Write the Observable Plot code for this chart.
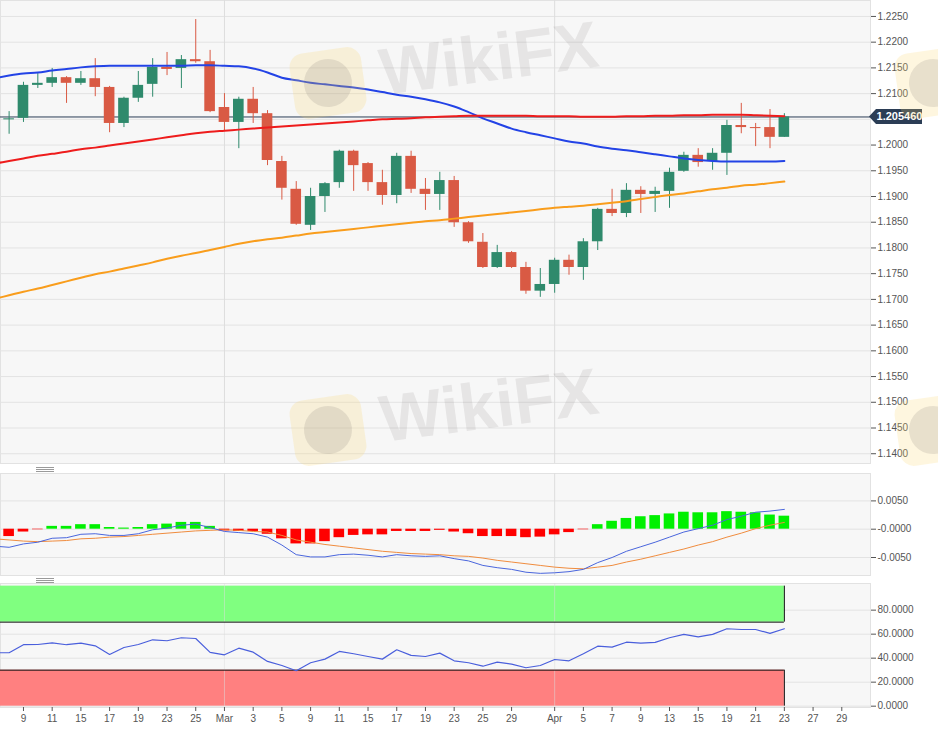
<!DOCTYPE html>
<html><head><meta charset="utf-8">
<script src="https://cdn.jsdelivr.net/npm/d3@7"></script>
<script src="https://cdn.jsdelivr.net/npm/@observablehq/plot@0.6"></script>
<style>
html,body{margin:0;padding:0;background:#fff;}
#wrap{position:relative;width:938px;height:734px;overflow:hidden;font-family:"Liberation Sans",Arial,sans-serif;}
.panel{position:absolute;left:0;}
.handle{position:absolute;left:36px;width:18px;height:5px;background:repeating-linear-gradient(to bottom,#9a9a9a 0,#9a9a9a 1px,transparent 1px,transparent 2px);}
.logo{position:absolute;pointer-events:none;width:72px;height:66px;border-radius:14px;background:rgba(250,214,110,0.22);transform:rotate(-8deg);}
.logo::after{content:"";position:absolute;left:12px;top:9px;width:48px;height:48px;border-radius:50%;background:rgba(110,100,100,0.15);}
#wmsvg{position:absolute;left:0;top:0;pointer-events:none;}
</style></head>
<body><div id="wrap"></div>
<script>
// ---- data (EUR/USD daily) ----
const dates = ["2021-02-05","2021-02-08","2021-02-09","2021-02-10","2021-02-11","2021-02-12",
"2021-02-15","2021-02-16","2021-02-17","2021-02-18","2021-02-19",
"2021-02-22","2021-02-23","2021-02-24","2021-02-25","2021-02-26",
"2021-03-01","2021-03-02","2021-03-03","2021-03-04","2021-03-05",
"2021-03-08","2021-03-09","2021-03-10","2021-03-11","2021-03-12",
"2021-03-15","2021-03-16","2021-03-17","2021-03-18","2021-03-19",
"2021-03-22","2021-03-23","2021-03-24","2021-03-25","2021-03-26",
"2021-03-29","2021-03-30","2021-03-31","2021-04-01","2021-04-02",
"2021-04-05","2021-04-06","2021-04-07","2021-04-08","2021-04-09",
"2021-04-12","2021-04-13","2021-04-14","2021-04-15","2021-04-16",
"2021-04-19","2021-04-20","2021-04-21","2021-04-22","2021-04-23"];
const futureDates = ["2021-04-26","2021-04-27","2021-04-28","2021-04-29","2021-04-30"];

const open = [1.1970,1.2049,1.2052,1.2116,1.2120,1.2131,1.2120,1.2129,1.2112,1.2042,
1.2091,1.2118,1.2151,1.2149,1.2166,1.2162,1.2073,1.2044,1.2089,1.2061,
1.1968,1.1914,1.1844,1.1900,1.1927,1.1988,1.1964,1.1927,1.1902,1.1978,
1.1914,1.1904,1.1931,1.1849,1.1811,1.1762,1.1791,1.1762,1.1716,1.1729,
1.1776,1.1762,1.1812,1.1875,1.1867,1.1912,1.1904,1.1910,1.1949,1.1980,
1.1968,1.1984,1.2038,1.2034,1.2034,1.2015];
const high = [1.2054,1.2065,1.2122,1.2139,1.2149,1.2133,1.2143,1.2168,1.2114,1.2093,
1.2143,1.2168,1.2180,1.2174,1.2244,1.2184,1.2100,1.2093,1.2112,1.2067,
1.1978,1.1929,1.1916,1.1927,1.1990,1.1990,1.1966,1.1951,1.1984,1.1988,
1.1935,1.1947,1.1939,1.1851,1.1828,1.1805,1.1793,1.1772,1.1760,1.1780,
1.1786,1.1818,1.1877,1.1914,1.1925,1.1919,1.1918,1.1955,1.1986,1.1993,
1.1993,1.2048,1.2081,1.2042,1.2069,1.2061];
const low = [1.1964,1.2021,1.2044,1.2110,1.2112,1.2081,1.2116,1.2094,1.2024,1.2034,
1.2083,1.2093,1.2135,1.2110,1.2159,1.2063,1.2028,1.1993,1.2042,1.1960,
1.1893,1.1844,1.1834,1.1869,1.1916,1.1910,1.1910,1.1883,1.1886,1.1906,
1.1873,1.1873,1.1840,1.1809,1.1760,1.1760,1.1760,1.1710,1.1704,1.1712,
1.1747,1.1737,1.1795,1.1861,1.1859,1.1867,1.1869,1.1877,1.1947,1.1957,
1.1951,1.1941,1.2022,1.1997,1.1993,1.2015];
const close = [1.2052,1.2051,1.2116,1.2120,1.2131,1.2120,1.2129,1.2112,1.2042,1.2091,
1.2116,1.2151,1.2147,1.2166,1.2162,1.2065,1.2044,1.2089,1.2061,1.1970,
1.1916,1.1846,1.1900,1.1925,1.1988,1.1960,1.1927,1.1902,1.1978,1.1914,
1.1904,1.1931,1.1849,1.1812,1.1762,1.1791,1.1762,1.1716,1.1729,1.1776,
1.1762,1.1812,1.1875,1.1867,1.1912,1.1904,1.1910,1.1947,1.1980,1.1966,
1.1984,1.2038,1.2034,1.2032,1.2015,1.20546];

const ma50 = [1.2130,1.2135,1.2139,1.2141,1.2145,1.2148,1.2151,1.2153,1.2154,1.2154,
1.2154,1.2154,1.2154,1.2154,1.2155,1.2155,1.2154,1.2153,1.2149,1.2141,
1.2131,1.2126,1.2121,1.2118,1.2115,1.2112,1.2108,1.2103,1.2098,1.2094,
1.2089,1.2083,1.2075,1.2064,1.2052,1.2042,1.2032,1.2025,1.2019,1.2013,
1.2007,1.2003,1.1997,1.1993,1.1990,1.1986,1.1982,1.1978,1.1974,1.1971,
1.1969,1.1968,1.1968,1.1968,1.1968,1.1969];
const ma100 = [1.1964,1.1969,1.1974,1.1979,1.1983,1.1987,1.1992,1.1995,1.1999,1.2003,
1.2007,1.2011,1.2015,1.2019,1.2023,1.2026,1.2028,1.2030,1.2032,1.2034,
1.2036,1.2038,1.2040,1.2042,1.2044,1.2046,1.2048,1.2050,1.2051,1.2052,
1.2054,1.2055,1.2056,1.2057,1.2057,1.2057,1.2057,1.2057,1.2056,1.2056,
1.2056,1.2055,1.2055,1.2055,1.2056,1.2056,1.2057,1.2057,1.2058,1.2058,
1.2059,1.2059,1.2059,1.2058,1.2057,1.2056];
const ma200 = [1.1701,1.1708,1.1715,1.1721,1.1728,1.1735,1.1742,1.1749,1.1754,1.1760,
1.1766,1.1772,1.1779,1.1785,1.1790,1.1796,1.1802,1.1808,1.1813,1.1817,
1.1820,1.1824,1.1828,1.1831,1.1834,1.1837,1.1840,1.1843,1.1846,1.1849,
1.1852,1.1854,1.1857,1.1860,1.1863,1.1866,1.1869,1.1872,1.1875,1.1878,
1.1880,1.1882,1.1885,1.1888,1.1891,1.1895,1.1899,1.1903,1.1906,1.1910,
1.1914,1.1917,1.1921,1.1923,1.1926,1.1929];

const macd = [-0.0030,-0.0032,-0.0026,-0.0023,-0.0016,-0.0015,-0.0009,-0.0008,-0.0011,-0.0011,
-0.0008,-0.0001,0.0002,0.0007,0.0009,0.0003,-0.0004,-0.0006,-0.0008,-0.0014,
-0.0028,-0.0045,-0.0049,-0.0049,-0.0045,-0.0044,-0.0046,-0.0049,-0.0045,-0.0047,
-0.0048,-0.0047,-0.0052,-0.0056,-0.0064,-0.0068,-0.0071,-0.0076,-0.0078,-0.0077,
-0.0075,-0.0071,-0.0059,-0.0050,-0.0039,-0.0031,-0.0023,-0.0014,-0.0005,0.0001,
0.0007,0.0017,0.0023,0.0030,0.0032,0.0035];
const signal = [-0.0017,-0.0019,-0.0021,-0.0022,-0.0021,-0.0020,-0.0017,-0.0016,-0.0014,-0.0013,
-0.0011,-0.0009,-0.0007,-0.0005,-0.0003,-0.0002,-0.0001,-0.0002,-0.0004,-0.0005,
-0.0011,-0.0019,-0.0023,-0.0027,-0.0030,-0.0033,-0.0036,-0.0039,-0.0041,-0.0043,
-0.0044,-0.0045,-0.0047,-0.0048,-0.0051,-0.0055,-0.0058,-0.0061,-0.0064,-0.0067,
-0.0069,-0.0070,-0.0067,-0.0064,-0.0058,-0.0053,-0.0047,-0.0041,-0.0035,-0.0028,
-0.0022,-0.0014,-0.0007,0.0001,0.0007,0.0012];
const hist = [-0.0012,-0.0013,-0.0005,-0.0001,0.0005,0.0005,0.0008,0.0008,0.0003,0.0002,
0.0003,0.0008,0.0009,0.0012,0.0012,0.0005,-0.0003,-0.0004,-0.0004,-0.0009,
-0.0017,-0.0026,-0.0026,-0.0022,-0.0015,-0.0011,-0.0010,-0.0010,-0.0004,-0.0004,
-0.0004,-0.0002,-0.0005,-0.0008,-0.0013,-0.0013,-0.0013,-0.0015,-0.0014,-0.0010,
-0.0006,-0.0001,0.0008,0.0014,0.0019,0.0022,0.0024,0.0027,0.0030,0.0029,
0.0029,0.0031,0.0030,0.0029,0.0025,0.0023];

const rsi = [44.5,44.5,51.2,51.4,52.8,51.2,52.5,50.3,43.1,48.9,
51.4,55.3,54.5,57.0,56.4,44.8,42.8,48.3,45.0,37.3,
33.9,29.5,36.2,39.2,45.6,43.7,41.4,39.2,47.0,42.3,
41.4,44.2,37.8,36.2,33.3,36.7,35.0,32.0,33.9,38.9,
37.8,43.7,50.0,49.2,53.3,52.5,53.1,57.0,59.8,57.8,
59.8,64.5,63.9,63.9,60.6,64.5];

const mainTicks = [1.1400,1.1450,1.1500,1.1550,1.1600,1.1650,1.1700,1.1750,1.1800,1.1850,
1.1900,1.1950,1.2000,1.2050,1.2100,1.2150,1.2200,1.2250];
const macdTicks = [0.005, 0, -0.005];
const macdTickLabels = ["0.0050", "-0.0000", "-0.0050"];
const rsiTicks = [0, 20, 40, 60, 80];
const rsiBands = [{lo: 70, hi: 100, edge: 70, fill: "#80ff80"}, {lo: 0, hi: 30, edge: 30, fill: "#ff8080"}];
const xTickDates = ["2021-02-09","2021-02-11","2021-02-15","2021-02-17","2021-02-19","2021-02-23","2021-02-25",
"2021-03-01","2021-03-03","2021-03-05","2021-03-09","2021-03-11","2021-03-15","2021-03-17","2021-03-19",
"2021-03-23","2021-03-25","2021-03-29","2021-04-01","2021-04-05","2021-04-07","2021-04-09","2021-04-13",
"2021-04-15","2021-04-19","2021-04-21","2021-04-23","2021-04-27","2021-04-29"];
const xTickLabels = ["9","11","15","17","19","23","25","Mar","3","5","9","11","15","17","19","23","25","29",
"Apr","5","7","9","13","15","19","21","23","27","29"];

// ---- layout ----
const W = 938, plotRight = 870;
const xDomain = [0.4, 61];
const HW = 0.37;
const GREEN = "#2f8a6c", RED = "#d95a44";
const FONT = "Liberation Sans, Arial, sans-serif";

const allDates = dates.concat(futureDates);
const rows = dates.map((d, i) => ({i, date: d, open: open[i], high: high[i], low: low[i], close: close[i],
  ma50: ma50[i], ma100: ma100[i], ma200: ma200[i], macd: macd[i], signal: signal[i], hist: hist[i], rsi: rsi[i]}));
const up = d => d.close >= d.open;
const lastIdx = rows.length - 1;
const lastClose = close[lastIdx];
const monthStarts = dates.map((d, i) => i).filter(i => i > 0 && dates[i].slice(5, 7) !== dates[i - 1].slice(5, 7));
const xTickIdx = xTickDates.map(d => allDates.indexOf(d));
const labelMap = new Map(xTickIdx.map((d, k) => [d, xTickLabels[k]]));
// the tick label hidden behind the last-price badge
const mainAxisTicks = mainTicks.filter(t => Math.abs(t - lastClose) > 0.001);

const baseStyle = {fontFamily: FONT, fontSize: "10px", color: "#555", background: "transparent", overflow: "visible"};
const frameBg = () => Plot.frame({fill: "#f7f7f7", stroke: "#e2e2e2"});
const monthRules = () => Plot.ruleX(monthStarts, {stroke: "#dddddd"});

const main = Plot.plot({
  width: W, height: 463, marginLeft: 0, marginRight: W - plotRight, marginTop: 0, marginBottom: 0,
  style: baseStyle,
  x: {domain: xDomain, axis: null, label: null},
  y: {domain: [1.1381, 1.2281], axis: null, label: null},
  color: {type: "identity"},
  marks: [
    frameBg(),
    Plot.gridY(mainTicks, {stroke: "#e3e3e3", strokeOpacity: 1}),
    monthRules(),
    Plot.ruleY([lastClose], {stroke: "#2b3d55", strokeWidth: 1}),
    Plot.ruleX(rows, {x: "i", y1: "low", y2: "high", stroke: d => up(d) ? GREEN : RED, strokeWidth: 1, clip: true}),
    Plot.rect(rows, {x1: d => d.i - HW, x2: d => d.i + HW, y1: "open", y2: "close", fill: d => up(d) ? GREEN : RED, clip: true}),
    Plot.line(rows, {x: "i", y: "ma200", stroke: "#f99d1c", strokeWidth: 2, curve: "monotone-x", clip: true}),
    Plot.line(rows, {x: "i", y: "ma50", stroke: "#2343e6", strokeWidth: 2, curve: "monotone-x", clip: true}),
    Plot.line(rows, {x: "i", y: "ma100", stroke: "#ee1c1c", strokeWidth: 2, curve: "monotone-x", clip: true}),
    Plot.axisY(mainAxisTicks, {anchor: "right", tickSize: 5, tickPadding: 2, label: null, tickFormat: d => d.toFixed(4)})
  ]
});
{
  const yv = main.scale("y").apply(lastClose);
  const s = d3.select(main);
  s.append("path")
    .attr("d", `M${plotRight - 1},${yv}L${plotRight + 6},${yv - 7.5}H${plotRight + 52}V${yv + 7.5}H${plotRight + 6}Z`)
    .attr("fill", "#2b3d55");
  s.append("text").attr("x", plotRight + 29.5).attr("y", yv).attr("dy", "0.36em")
    .attr("text-anchor", "middle").attr("fill", "#fff").attr("font-weight", "bold")
    .attr("font-size", 11).attr("font-family", FONT).text(lastClose.toFixed(6));
}

const macdPlot = Plot.plot({
  width: W, height: 102, marginLeft: 0, marginRight: W - plotRight, marginTop: 0, marginBottom: 0,
  style: baseStyle,
  x: {domain: xDomain, axis: null, label: null},
  y: {domain: [-0.00818, 0.00984], axis: null, label: null},
  color: {type: "identity"},
  marks: [
    frameBg(),
    Plot.gridY(macdTicks, {stroke: "#e3e3e3", strokeOpacity: 1}),
    monthRules(),
    Plot.rect(rows, {x1: d => d.i - HW, x2: d => d.i + HW, y1: () => 0, y2: "hist",
      fill: d => d.hist >= 0 ? "#00f000" : "#ff0000", clip: true}),
    Plot.line(rows, {x: "i", y: "signal", stroke: "#f08c3e", strokeWidth: 1, clip: true}),
    Plot.line(rows, {x: "i", y: "macd", stroke: "#4a66dd", strokeWidth: 1, clip: true}),
    Plot.axisY(macdTicks, {anchor: "right", tickSize: 5, tickPadding: 2, label: null,
      tickFormat: d => macdTickLabels[macdTicks.indexOf(d)]})
  ]
});

const rsiPlot = Plot.plot({
  width: W, height: 151, marginLeft: 0, marginRight: W - plotRight, marginTop: 0, marginBottom: 27,
  style: baseStyle,
  x: {domain: xDomain, axis: null, label: null},
  y: {domain: [-1.1, 102.2], axis: null, label: null},
  color: {type: "identity"},
  marks: [
    frameBg(),
    Plot.gridY(rsiTicks, {stroke: "#e3e3e3", strokeOpacity: 1}),
    Plot.rect(rsiBands, {x1: () => 0, x2: () => lastIdx, y1: "lo", y2: "hi", fill: "fill", clip: true}),
    Plot.ruleX(monthStarts, {stroke: "#dddddd", strokeOpacity: 0.5}),
    Plot.ruleY(rsiBands, {y: "edge", x1: () => 0, x2: () => lastIdx, stroke: "#111", strokeWidth: 1, clip: true}),
    Plot.ruleX(rsiBands, {x: () => lastIdx, y1: "lo", y2: "hi", stroke: "#111", strokeWidth: 1}),
    Plot.line(rows, {x: "i", y: "rsi", stroke: "#4a5fdc", strokeWidth: 1.2, clip: true}),
    Plot.axisY(rsiTicks, {anchor: "right", tickSize: 5, tickPadding: 2, label: null, tickFormat: d => d.toFixed(4)}),
    Plot.axisX(xTickIdx, {anchor: "bottom", tickSize: 4, tickPadding: 3, label: null, tickFormat: d => labelMap.get(d)})
  ]
});

const wrap = document.getElementById("wrap");
function place(el, top) {
  const div = document.createElement("div");
  div.className = "panel";
  div.style.top = top + "px";
  div.appendChild(el);
  wrap.appendChild(div);
}
place(main, 0);
place(macdPlot, 473);
place(rsiPlot, 583);

function addDiv(cls, left, top) {
  const d = document.createElement("div");
  d.className = cls;
  d.style.left = left + "px";
  d.style.top = top + "px";
  wrap.appendChild(d);
}
addDiv("handle", 36, 467);
addDiv("handle", 36, 578);
// watermark decoration
addDiv("logo", 292, 50);
addDiv("logo", 292, 397);
addDiv("logo", 897, 50);
addDiv("logo", 897, 397);
const wm = d3.select(wrap).append("svg").attr("id", "wmsvg").attr("width", W).attr("height", 734);
[[383, 95], [383, 442]].forEach(([x, y]) => {
  wm.append("text").attr("transform", `translate(${x},${y}) rotate(-7.5)`)
    .attr("font-family", FONT).attr("font-weight", "bold").attr("font-size", 66)
    .attr("fill", "rgba(105,95,95,0.12)").text("WikiFX");
});
</script></body></html>
